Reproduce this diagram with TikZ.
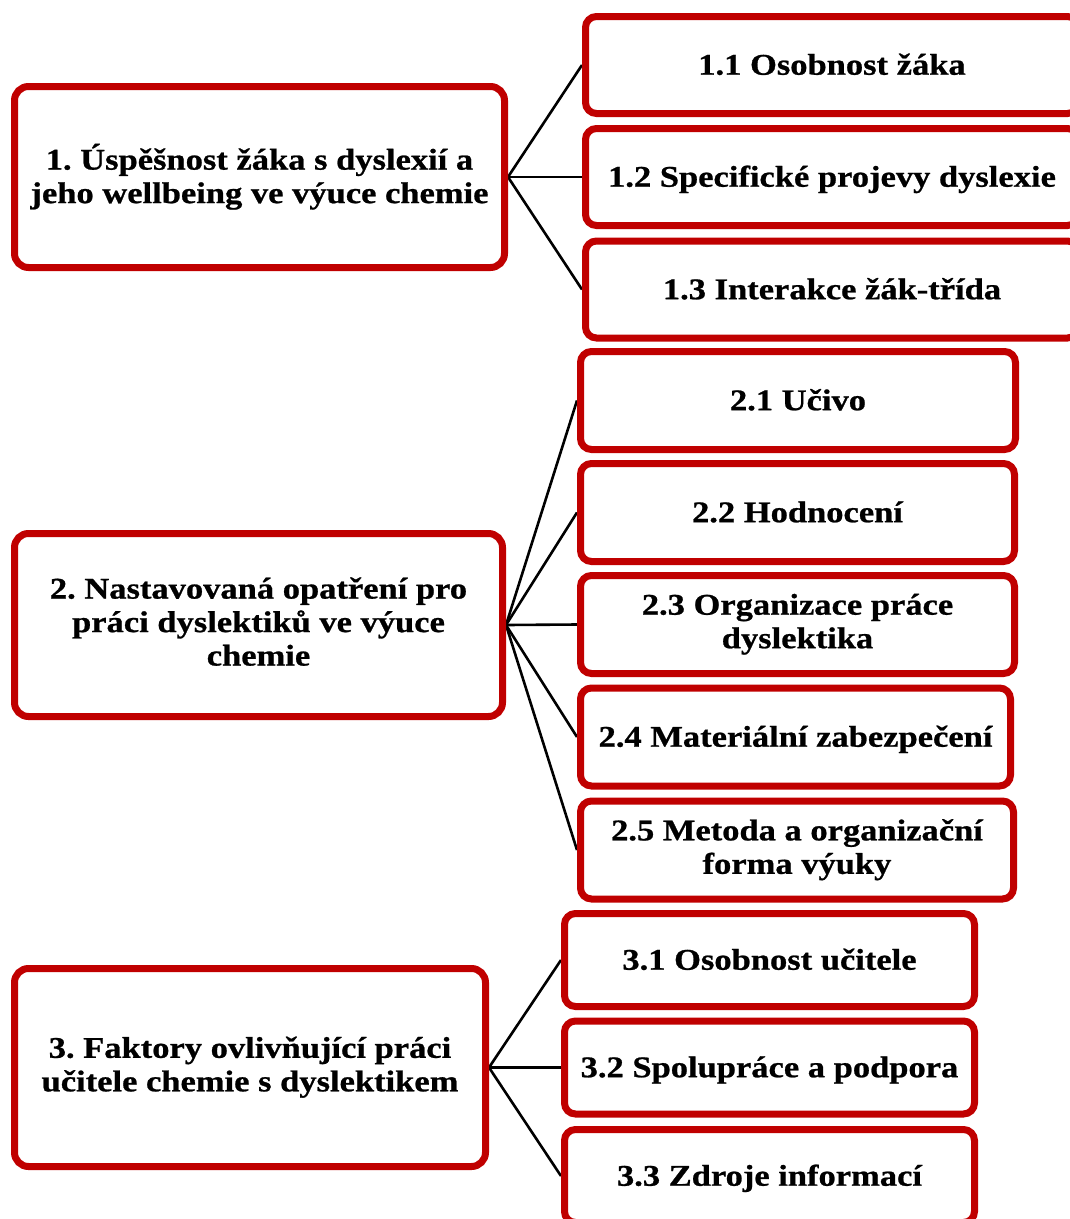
\documentclass[tikz,border=0pt]{standalone}
\usepackage{fontspec}
\setmainfont{Liberation Serif}[FakeStretch=1.15, BoldFeatures={FakeBold=0.8}]
\usetikzlibrary{backgrounds}
\definecolor{boxred}{HTML}{C00000}
\newcommand\boxstrut{\rule[-7.05pt]{0pt}{33.5pt}}
\tikzset{
  box/.style={draw=boxred, line width=7pt, fill=white, align=center, inner sep=0pt,
    font=\fontsize{30}{33.5}\selectfont\bfseries\frenchspacing, text=black,
    execute at begin node=\boxstrut, execute at end node=\boxstrut},
  mainbox/.style={box, rounded corners=14pt},
  subbox/.style={box, rounded corners=11pt},
  link/.style={draw=black, line width=2.6pt}
}
\begin{document}
\begin{tikzpicture}[x=1pt,y=-1pt]
\useasboundingbox (0,0) rectangle (1070,1219);
% main boxes
\node[mainbox, minimum width=490pt, minimum height=181pt] (m1) at (259.5,177) {1. Úspěšnost žáka s dyslexií a\\jeho wellbeing ve výuce chemie};
\node[mainbox, minimum width=488pt, minimum height=183pt] (m2) at (258.5,625) {2. Nastavovaná opatření pro\\práci dyslektiků ve výuce\\chemie};
\node[mainbox, minimum width=471pt, minimum height=198pt] (m3) at (250,1067.5) {3. Faktory ovlivňující práci\\učitele chemie s dyslektikem};
% group 1
\node[subbox, minimum width=493pt, minimum height=97pt] (s11) at (832,65) {1.1 Osobnost žáka};
\node[subbox, minimum width=493pt, minimum height=97pt] (s12) at (832,177) {1.2 Specifické projevy dyslexie};
\node[subbox, minimum width=493pt, minimum height=97pt] (s13) at (832,289.5) {1.3 Interakce žák-třída};
% group 2
\node[subbox, minimum width=435pt, minimum height=98pt] (s21) at (798,400.5) {2.1 Učivo};
\node[subbox, minimum width=434pt, minimum height=98pt] (s22) at (797.5,512.5) {2.2 Hodnocení};
\node[subbox, minimum width=434pt, minimum height=98pt] (s23) at (797.5,624.5) {2.3 Organizace práce\\dyslektika};
\node[subbox, minimum width=430pt, minimum height=98pt] (s24) at (795.5,737) {2.4 Materiální zabezpečení};
\node[subbox, minimum width=433pt, minimum height=98pt] (s25) at (797,850) {2.5 Metoda a organizační\\forma výuky};
% group 3
\node[subbox, minimum width=410pt, minimum height=93pt] (s31) at (769.5,960) {3.1 Osobnost učitele};
\node[subbox, minimum width=410pt, minimum height=93pt] (s32) at (769.5,1067.5) {3.2 Spolupráce a podpora};
\node[subbox, minimum width=410pt, minimum height=93pt] (s33) at (769.5,1176) {3.3 Zdroje informací};
% connectors
\begin{pgfonlayer}{background}
\foreach \c in {s11,s12,s13} \draw[link] (m1.east) -- (\c.west);
\foreach \c in {s21,s22,s23,s24,s25} \draw[link] (m2.east) -- (\c.west);
\foreach \c in {s31,s32,s33} \draw[link] (m3.east) -- (\c.west);
\end{pgfonlayer}
\end{tikzpicture}
\end{document}
